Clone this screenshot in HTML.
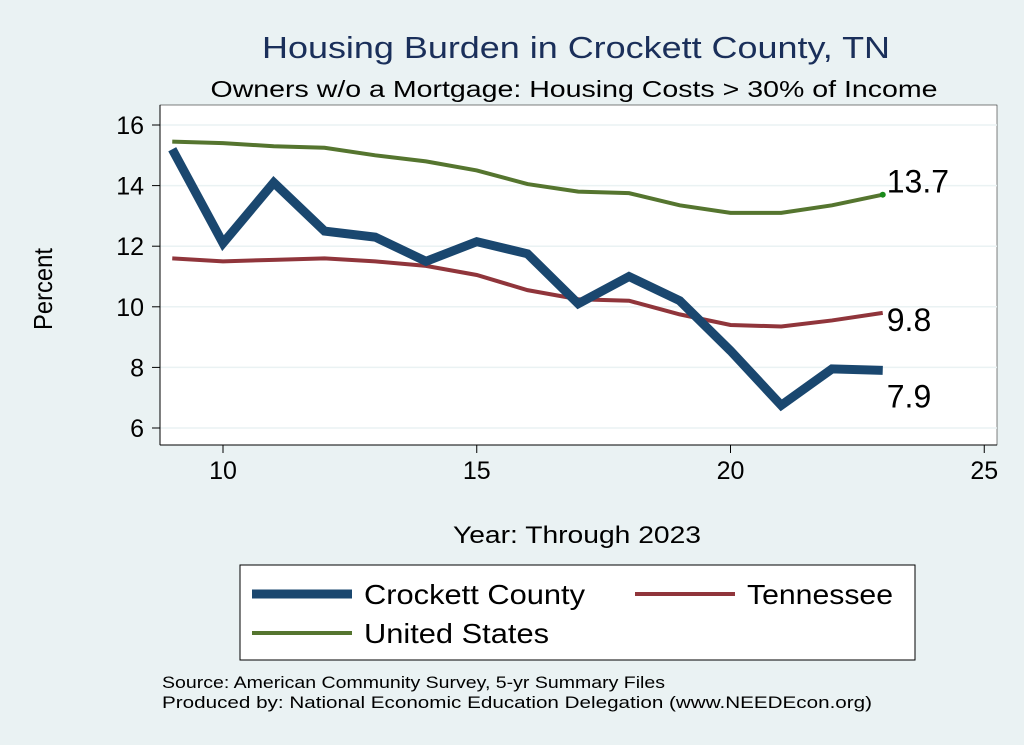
<!DOCTYPE html>
<html><head><meta charset="utf-8"><style>
body{margin:0;background:#eaf2f3;font-family:"Liberation Sans",sans-serif;}
svg{display:block}
</style></head><body>
<svg id="c" width="1024" height="745">
<rect width="1024" height="745" fill="#eaf2f3"/>
<text x="576" y="58" font-size="31" fill="#1a2f5a" text-anchor="middle" textLength="628" lengthAdjust="spacingAndGlyphs">Housing Burden in Crockett County, TN</text>
<text x="574" y="97" font-size="23" fill="#000" text-anchor="middle" textLength="727" lengthAdjust="spacingAndGlyphs">Owners w/o a Mortgage: Housing Costs &gt; 30% of Income</text>
<rect x="160" y="105" width="837" height="340" fill="#fff" stroke="#000" stroke-width="0.5"/>
<g id="grid"></g><g id="axes"></g><g id="series"></g>
<text x="52" y="289" font-size="26" text-anchor="middle" transform="rotate(-90 52 289)" textLength="82" lengthAdjust="spacingAndGlyphs">Percent</text>
<text x="577" y="543" font-size="24" text-anchor="middle" textLength="248" lengthAdjust="spacingAndGlyphs">Year: Through 2023</text>
<g>
<rect x="240" y="565" width="675" height="95" fill="#fff" stroke="#000" stroke-width="1"/>
<line x1="252" y1="594" x2="352" y2="594" stroke="#1a476f" stroke-width="9"/>
<text x="364" y="604" font-size="28" textLength="221" lengthAdjust="spacingAndGlyphs">Crockett County</text>
<line x1="635" y1="594" x2="735" y2="594" stroke="#90353b" stroke-width="4"/>
<text x="747" y="604" font-size="28" textLength="146" lengthAdjust="spacingAndGlyphs">Tennessee</text>
<line x1="252" y1="633" x2="352" y2="633" stroke="#55752f" stroke-width="4"/>
<text x="364" y="643" font-size="28" textLength="185" lengthAdjust="spacingAndGlyphs">United States</text>
</g>
<text x="162" y="688" font-size="17" textLength="503" lengthAdjust="spacingAndGlyphs">Source: American Community Survey, 5-yr Summary Files</text>
<text x="162" y="708" font-size="17" textLength="710" lengthAdjust="spacingAndGlyphs">Produced by: National Economic Education Delegation (www.NEEDEcon.org)</text>
</svg>
<script>
const years=[9,10,11,12,13,14,15,16,17,18,19,20,21,22,23];
const crockett=[15.2,12.1,14.1,12.5,12.3,11.5,12.15,11.75,10.1,11.0,10.2,8.55,6.75,7.95,7.9];
const tennessee=[11.6,11.5,11.55,11.6,11.5,11.35,11.05,10.55,10.25,10.2,9.75,9.4,9.35,9.55,9.8];
const us=[15.45,15.4,15.3,15.25,15.0,14.8,14.5,14.05,13.8,13.75,13.35,13.1,13.1,13.35,13.7];
const xTicks=[10,15,20,25];
const yTicks=[6,8,10,12,14,16];
const X=v=>223+(v-10)*50.75;
const Y=v=>428-(v-6)*30.3;
const NS="http://www.w3.org/2000/svg";
function mk(t,a,p){const e=document.createElementNS(NS,t);for(const k in a)e.setAttribute(k,a[k]);p.appendChild(e);return e;}
const grid=document.getElementById('grid'),axes=document.getElementById('axes'),ser=document.getElementById('series');
mk('line',{x1:160,y1:105,x2:160,y2:445,stroke:'#000'},axes);
mk('line',{x1:160,y1:445,x2:997,y2:445,stroke:'#000'},axes);
yTicks.forEach(v=>{
 const g=mk('line',{x1:160,x2:997,y1:Y(v),y2:Y(v),stroke:'#eaf2f3','stroke-width':1.5},grid);
 
 
 mk('line',{x1:152,x2:160,y1:Y(v),y2:Y(v),stroke:'#000'},axes);
 const t=mk('text',{x:144,y:Y(v)+9,'font-size':25,'text-anchor':'end'},axes);t.textContent=v;
 
 
});
xTicks.forEach(v=>{
 mk('line',{x1:X(v),x2:X(v),y1:445,y2:453,stroke:'#000'},axes);
 const t=mk('text',{x:X(v),y:479,'font-size':25,'text-anchor':'middle'},axes);t.textContent=v;
 
 
});
function line(d,c,w,name){
 const p=mk('polyline',{points:years.map((y,i)=>X(y)+','+Y(d[i])).join(' '),fill:'none',stroke:c,'stroke-width':w,'stroke-linejoin':'miter'},ser);
 
 
}
line(us,'#55752f',4,'line-united-states');
line(tennessee,'#90353b',4,'line-tennessee');
line(crockett,'#1a476f',9,'line-crockett-county');
const n=years.length-1;
mk('circle',{cx:X(years[n]),cy:Y(us[n]),r:3,fill:'#1a8a1a'},ser);
function lab(v,dy,name){const t=mk('text',{x:X(years[n])+4,y:Y(v)+dy,'font-size':32},ser);t.textContent=v.toFixed(1);
 
 }
lab(us[n],-2,'label-us-last');
lab(tennessee[n],18,'label-tennessee-last');
lab(crockett[n],37,'label-crockett-last');
</script>
</body></html>
